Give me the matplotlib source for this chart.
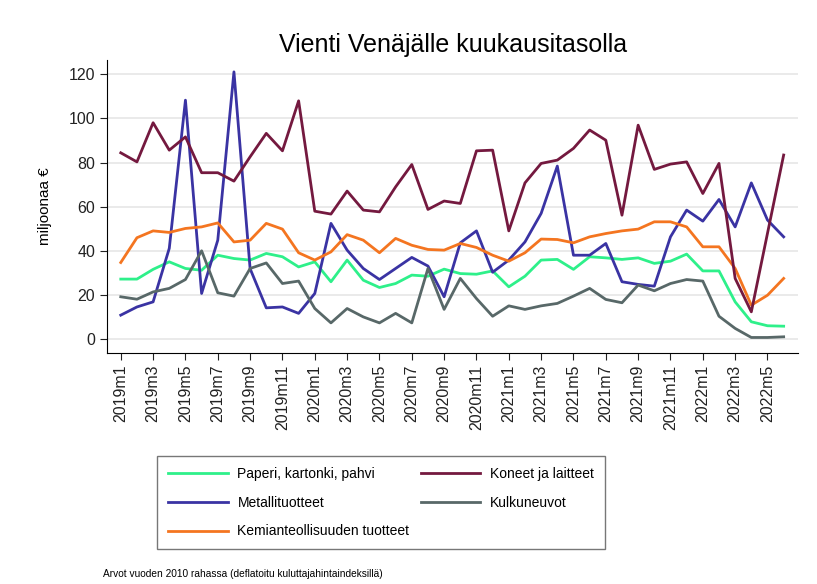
import matplotlib.pyplot as plt

plt.rcParams['font.family'] = ['Liberation Sans', 'DejaVu Sans']

months = [f'{y}m{m}' for y in range(2019, 2023) for m in range(1, 13)][:42]

paperi = [27.3, 27.3, 31.7, 35.1, 32.1, 31.3, 38.1, 36.6, 35.9, 38.9, 37.4, 32.8,
          35.1, 26.1, 35.9, 26.8, 23.5, 25.3, 29.1, 28.6, 31.8, 29.8, 29.5, 31.0,
          23.8, 28.6, 35.9, 36.2, 31.7, 37.4, 36.9, 36.2, 36.9, 34.4, 35.4, 38.6,
          31.0, 31.0, 17.0, 8.0, 6.2, 6.0]
metalli = [11.0, 14.7, 17.0, 41.2, 108.2, 20.8, 44.9, 121.0, 32.0, 14.3, 14.7, 11.8,
           20.8, 52.5, 40.4, 32.1, 27.1, 32.1, 37.1, 33.2, 19.3, 43.7, 49.1, 30.4,
           35.9, 44.1, 57.0, 78.4, 38.1, 38.1, 43.4, 26.1, 24.9, 24.1, 46.4, 58.5,
           53.5, 63.3, 50.9, 70.8, 54.0, 46.4]
kemian = [34.8, 46.0, 49.1, 48.4, 50.2, 50.9, 52.7, 44.1, 44.9, 52.5, 49.9, 39.2,
          35.9, 39.6, 47.4, 44.9, 39.2, 45.7, 42.6, 40.7, 40.4, 43.4, 41.6, 38.1,
          35.4, 39.2, 45.4, 45.2, 43.7, 46.4, 47.9, 49.1, 49.9, 53.2, 53.2, 50.9,
          41.9, 41.9, 32.1, 15.5, 20.0, 27.6]
koneet = [84.4, 80.3, 98.0, 85.6, 91.6, 75.4, 75.4, 71.6, 82.6, 93.2, 85.3, 107.9,
          58.0, 56.7, 67.1, 58.5, 57.7, 69.0, 79.1, 58.8, 62.6, 61.5, 85.3, 85.6,
          49.1, 70.8, 79.6, 81.1, 86.4, 94.7, 90.1, 56.2, 96.9, 76.9, 79.3, 80.3,
          66.0, 79.6, 27.6, 12.5, 48.0, 83.4]
kulkuneuvot = [19.3, 18.2, 21.5, 23.1, 27.1, 40.1, 21.1, 19.6, 32.1, 34.6, 25.3, 26.4,
               14.0, 7.5, 14.0, 10.2, 7.5, 11.8, 7.5, 32.1, 13.6, 27.6, 18.5, 10.5,
               15.2, 13.6, 15.2, 16.3, 19.6, 23.1, 18.1, 16.6, 24.6, 22.0, 25.3, 27.1,
               26.4, 10.5, 5.0, 0.9, 0.9, 1.2]

x = list(range(len(months)))

fig = plt.figure(figsize=(8.17, 5.84), dpi=100)
ax = fig.add_axes([0.131, 0.396, 0.846, 0.501])

ax.plot(x, paperi, color='#2ef08a', lw=2, label='Paperi, kartonki, pahvi')
ax.plot(x, metalli, color='#3a33a3', lw=2, label='Metallituotteet')
ax.plot(x, kemian, color='#f47520', lw=2, label='Kemianteollisuuden tuotteet')
ax.plot(x, koneet, color='#74193f', lw=2, label='Koneet ja laitteet')
ax.plot(x, kulkuneuvot, color='#586868', lw=2, label='Kulkuneuvot')

ax.set_xlim(-0.85, 41.9)
ax.set_ylim(-6, 126.3)
ax.set_yticks(range(0, 121, 20))
ax.set_xticks(x[::2])
ax.set_xticklabels(months[::2], rotation=90)
ax.tick_params(labelsize=11.5, colors='#222222', length=5)
ax.grid(axis='y', color='#e6e6e6', lw=1.2)
ax.set_axisbelow(True)
ax.spines['top'].set_visible(False)
ax.spines['right'].set_visible(False)
ax.set_ylabel('miljoonaa €', fontsize=11, labelpad=12)
ax.set_title('Vienti Venäjälle kuukausitasolla', fontsize=18, pad=6)

leg = fig.legend(loc='upper left', ncol=2, bbox_to_anchor=(0.192, 0.219),
                 fontsize=10, handlelength=4.3, handletextpad=0.7, frameon=True,
                 fancybox=False, edgecolor='#555555', borderaxespad=0,
                 borderpad=0.8, labelspacing=1.05, columnspacing=0.8)
leg.get_frame().set_linewidth(1)

fig.text(0.126, 0.012, 'Arvot vuoden 2010 rahassa (deflatoitu kuluttajahintaindeksillä)',
         fontsize=7.3)

fig.savefig('out.png', dpi=100)
